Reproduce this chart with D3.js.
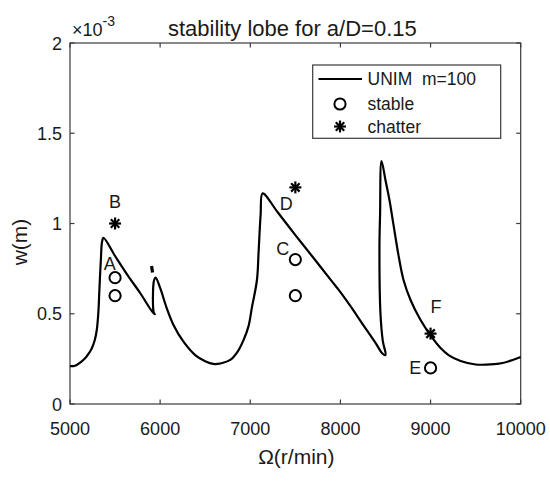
<!DOCTYPE html>
<html><head><meta charset="utf-8">
<script src="https://cdn.jsdelivr.net/npm/d3@7"></script>
<style>body{margin:0;background:#fff}svg{display:block;font-family:"Liberation Sans",Arial,sans-serif}</style>
</head><body><svg id="c" width="550" height="488"></svg>
<script>
// spindle speed (r/min) and limiting depth w (x10^-3 m) of the stability lobe curve
const omega = [5000,5040,5074,5120,5167,5210,5241,5275,5297,5315,5326,5344,5356,5372,5500,5644,5778,5900,5940,5928,5920,5933,5950,
  6000,6074,6148,6259,6389,6500,6589,6680,6778,6860,6926,6980,7019,7074,7093,7115,7137,
  7300,7500,7700,7908,7981,8100,8250,8400,8463,8500,8470,8444,8433,8440,8456,
  8500,8544,8589,8644,8700,8778,8889,9000,9111,9200,9333,9500,9667,9800,9911,10000];
const wLobe = [0.21,0.21,0.216,0.232,0.253,0.282,0.308,0.355,0.41,0.51,0.632,0.816,0.90,0.92,0.82,0.71,0.615,0.52,0.497,0.51,0.59,0.687,0.70,
  0.643,0.53,0.438,0.345,0.271,0.237,0.222,0.226,0.244,0.29,0.355,0.43,0.537,0.687,0.85,1.05,1.167,
  1.065,0.936,0.81,0.678,0.632,0.55,0.44,0.33,0.281,0.271,0.35,0.504,0.87,1.05,1.346,
  1.24,1.13,0.992,0.825,0.687,0.576,0.465,0.38,0.31,0.271,0.238,0.219,0.219,0.227,0.244,0.26];
// small isolated fragment near 5900 r/min
const blipOmega = [5905,5910,5916];
const blipW = [0.765,0.748,0.728];
// experiments
const stableOmega = [5500,5500,7500,7500,9000];
const stableW = [0.7,0.6,0.8,0.6,0.2];
const chatterOmega = [5500,7500,9000];
const chatterW = [1.0,1.2,0.39];
const pointLabels = ["A","B","C","D","E","F"];
const labelOmega = [5440,5500,7360,7400,8830,9060];
const labelW = [0.78,1.12,0.86,1.11,0.2,0.54];
const xTicks = [5000,6000,7000,8000,9000,10000];
const yTicks = [0,0.5,1,1.5,2];
const yTickLabels = ["0","0.5","1","1.5","2"];
const titleText = "stability lobe for a/D=0.15";
const xLabel = "\u03A9(r/min)";
const yLabel = "w(m)";
const legendItems = ["UNIM  m=100","stable","chatter"];

const svg = d3.select("#c");
const L=70, T=43, R=520.7, B=404;
const x = d3.scaleLinear().domain([5000,10000]).range([L,R]);
const y = d3.scaleLinear().domain([0,2]).range([B,T]);
const axCol = "#3a3a3a", txtCol = "#1a1a1a";

// axes box and ticks
const g = svg.append("g");
g.append("rect").attr("x",L).attr("y",T).attr("width",R-L).attr("height",B-T)
  .attr("fill","none").attr("stroke",axCol).attr("stroke-width",1.2);
const tl = 4.5;
xTicks.forEach(v=>{
  g.append("line").attr("x1",x(v)).attr("x2",x(v)).attr("y1",B).attr("y2",B-tl).attr("stroke",axCol).attr("stroke-width",1.2);
  g.append("line").attr("x1",x(v)).attr("x2",x(v)).attr("y1",T).attr("y2",T+tl).attr("stroke",axCol).attr("stroke-width",1.2);
  g.append("text").attr("x",x(v)).attr("y",B+31).attr("text-anchor","middle").attr("font-size",18).attr("fill",txtCol).text(v);
});
yTicks.forEach((v,i)=>{
  g.append("line").attr("x1",L).attr("x2",L+tl).attr("y1",y(v)).attr("y2",y(v)).attr("stroke",axCol).attr("stroke-width",1.2);
  g.append("line").attr("x1",R).attr("x2",R-tl).attr("y1",y(v)).attr("y2",y(v)).attr("stroke",axCol).attr("stroke-width",1.2);
  g.append("text").attr("x",L-8).attr("y",y(v)+6.5).attr("text-anchor","end").attr("font-size",18).attr("fill",txtCol).text(yTickLabels[i]);
});
// exponent
const ex = g.append("text").attr("x",L+2).attr("y",T-7).attr("font-size",18).attr("fill",txtCol);
ex.append("tspan").text("\u00D710");
ex.append("tspan").attr("dy",-10).attr("font-size",14).text("-3");

// title & labels
svg.append("text").attr("x",(L+R)/2-3).attr("y",36).attr("text-anchor","middle").attr("font-size",22).attr("fill",txtCol).text(titleText);
svg.append("text").attr("x",(L+R)/2+1).attr("y",464).attr("text-anchor","middle").attr("font-size",21).attr("fill",txtCol).text(xLabel);
svg.append("text").attr("transform","translate(27,242) rotate(-90)").attr("text-anchor","middle").attr("font-size",21).attr("fill",txtCol).text(yLabel);

// curve
const pts = omega.map((o,i)=>[o,wLobe[i]]);
const line = d3.line().x(d=>x(d[0])).y(d=>y(d[1])).curve(d3.curveCatmullRom.alpha(0.5));
svg.append("path").attr("d",line(pts)).attr("fill","none").attr("stroke","#000").attr("stroke-width",2.2).attr("stroke-linejoin","round");
svg.append("path").attr("d",d3.line().x(d=>x(d[0])).y(d=>y(d[1]))(blipOmega.map((o,i)=>[o,blipW[i]])))
  .attr("fill","none").attr("stroke","#000").attr("stroke-width",3.2);

// markers
function star(sel,cx,cy,r){
  const gg = sel.append("g").attr("transform",`translate(${cx},${cy})`);
  [0,45,90,135].forEach(a=>{
    const t=a*Math.PI/180;
    gg.append("line").attr("x1",-r*Math.cos(t)).attr("y1",-r*Math.sin(t)).attr("x2",r*Math.cos(t)).attr("y2",r*Math.sin(t))
      .attr("stroke","#000").attr("stroke-width",2.2);
  });
}
stableOmega.forEach((o,i)=>{
  svg.append("circle").attr("cx",x(o)).attr("cy",y(stableW[i])).attr("r",5.6).attr("fill","none").attr("stroke","#000").attr("stroke-width",2);
});
chatterOmega.forEach((o,i)=>star(svg,x(o),y(chatterW[i]),6));
pointLabels.forEach((t,i)=>{
  svg.append("text").attr("x",x(labelOmega[i])).attr("y",y(labelW[i])+6.5).attr("text-anchor","middle").attr("font-size",18).attr("fill",txtCol).text(t);
});

// legend
const lg = svg.append("g");
lg.append("rect").attr("x",312.7).attr("y",65).attr("width",188).attr("height",73.3).attr("fill","#fff").attr("stroke",axCol).attr("stroke-width",1.2);
lg.append("line").attr("x1",318.5).attr("x2",362).attr("y1",79).attr("y2",79).attr("stroke","#000").attr("stroke-width",2.2);
lg.append("circle").attr("cx",340).attr("cy",104).attr("r",5.6).attr("fill","none").attr("stroke","#000").attr("stroke-width",2);
star(lg,340,126.5,6);
[79,104,126.5].forEach((yy,i)=>{
  lg.append("text").attr("x",367.5).attr("y",yy+6.3).attr("font-size",17.5).attr("fill",txtCol).attr("xml:space","preserve").style("white-space","pre").text(legendItems[i]);
});
</script></body></html>
